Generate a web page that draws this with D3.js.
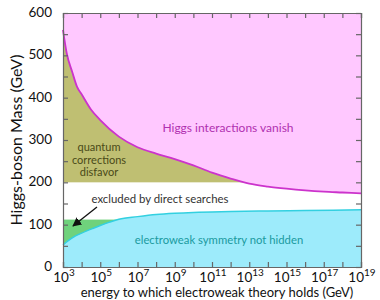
<!DOCTYPE html>
<html>
<head>
<meta charset="utf-8">
<script src="https://cdn.jsdelivr.net/npm/d3@7"></script>
<style>
  body { margin: 0; background: #fff; }
  text { font-family: Lato, "Open Sans", sans-serif; }
</style>
</head>
<body>
<div id="viz"></div>
<script>
"use strict";

// upper bound (Higgs interactions vanish), exponent of energy in GeV
let upperExp  = [3, 3.2, 3.5, 3.75, 4, 4.5, 5, 6, 7, 8, 9, 10, 11, 12, 13, 14, 15, 16, 17, 18, 19];
let upperMass = [560, 505, 460, 426, 408, 372, 347, 308, 283, 268, 255, 240, 223, 209, 197, 190, 185, 181, 178, 176, 174];

// lower bound (electroweak symmetry not hidden)
let lowerExp  = [3, 3.3, 3.65, 4, 4.6, 5, 5.5, 6, 7, 8, 9, 10, 12, 14, 16, 19];
let lowerMass = [52, 63, 73, 80, 91, 98, 106, 113, 119, 124, 127, 129, 131, 132.5, 133.5, 135];

let olivePlateau = 200;   // quantum corrections disfavour above this
let lepLimit = 112;       // excluded by direct searches below this

let xTickExp = [3, 5, 7, 9, 11, 13, 15, 17, 19];
let yTicks = [0, 100, 200, 300, 400, 500, 600];

function initChart() {
    let width = 380;
    let height = 300;
    let left = 63, right = 361, top = 13, bottom = 267;

    let xScale = d3.scaleLog()
                   .domain([1e3, 1e19])
                   .range([left, right]);

    let yScale = d3.scaleLinear()
                   .domain([0, 600])
                   .range([bottom, top]);

    let svg = d3.select('#viz')
                .append('svg')
                .attr('width', width)
                .attr('height', height);

    let upper = upperExp.map((e, i) => ({x: Math.pow(10, e), y: upperMass[i]}));
    let lower = lowerExp.map((e, i) => ({x: Math.pow(10, e), y: lowerMass[i]}));

    // olive band above 200, pink will cover it above the curve
    svg.append('rect')
       .attr('x', xScale(1e3))
       .attr('y', yScale(600))
       .attr('width', xScale(1e19) - xScale(1e3))
       .attr('height', yScale(olivePlateau) - yScale(600))
       .attr('fill', '#bfbf72');

    let pinkArea = d3.area()
                     .x(d => xScale(d.x))
                     .y0(yScale(600))
                     .y1(d => yScale(d.y))
                     .curve(d3.curveMonotoneX);

    svg.append('path')
       .datum(upper)
       .attr('d', pinkArea)
       .attr('fill', '#ffc8ff');

    // green band below LEP limit, cyan covers it under the curve
    svg.append('rect')
       .attr('x', xScale(1e3))
       .attr('y', yScale(lepLimit))
       .attr('width', xScale(1e19) - xScale(1e3))
       .attr('height', yScale(0) - yScale(lepLimit))
       .attr('fill', '#6fd27c');

    let cyanArea = d3.area()
                     .x(d => xScale(d.x))
                     .y0(yScale(0))
                     .y1(d => yScale(d.y))
                     .curve(d3.curveMonotoneX);

    svg.append('path')
       .datum(lower)
       .attr('d', cyanArea)
       .attr('fill', '#9debfb');

    let line = d3.line()
                 .x(d => xScale(d.x))
                 .y(d => yScale(d.y))
                 .curve(d3.curveMonotoneX);

    svg.append('path')
       .datum(upper)
       .attr('d', line)
       .attr('fill', 'none')
       .attr('stroke', '#cc33cc')
       .attr('stroke-width', 1.8);

    svg.append('path')
       .datum(lower)
       .attr('d', line)
       .attr('fill', 'none')
       .attr('stroke', '#33d0e0')
       .attr('stroke-width', 1.5);

    // frame and inward ticks
    let tickColor = '#666';
    let decades = d3.range(3, 20).map(e => Math.pow(10, e));
    let yMinor = d3.range(0, 601, 50);

    svg.append('g')
       .attr('transform', `translate(0,${bottom})`)
       .call(d3.axisBottom(xScale).tickValues(decades).tickSize(-5).tickFormat(''))
       .call(g => g.selectAll('line, path').attr('stroke', tickColor).attr('stroke-width', 1.2));
    svg.append('g')
       .attr('transform', `translate(0,${top})`)
       .call(d3.axisTop(xScale).tickValues(decades).tickSize(-5).tickFormat(''))
       .call(g => g.selectAll('line, path').attr('stroke', tickColor).attr('stroke-width', 1.2));
    svg.append('g')
       .attr('transform', `translate(${left},0)`)
       .call(d3.axisLeft(yScale).tickValues(yMinor).tickSize(-5).tickFormat(''))
       .call(g => g.selectAll('line, path').attr('stroke', tickColor).attr('stroke-width', 1.2));
    svg.append('g')
       .attr('transform', `translate(${right},0)`)
       .call(d3.axisRight(yScale).tickValues(yMinor).tickSize(-5).tickFormat(''))
       .call(g => g.selectAll('line, path').attr('stroke', tickColor).attr('stroke-width', 1.2));

    // y tick labels
    svg.selectAll('text.ylab')
       .data(yTicks)
       .enter()
       .append('text')
       .attr('class', 'ylab')
       .attr('x', left - 11)
       .attr('y', d => yScale(d) + 4)
       .attr('text-anchor', 'end')
       .attr('font-size', '13.5px')
       .attr('fill', '#111')
       .text(d => d);

    // x tick labels with superscripts
    let xl = svg.selectAll('text.xlab')
                .data(xTickExp)
                .enter()
                .append('text')
                .attr('class', 'xlab')
                .attr('x', d => xScale(Math.pow(10, d)) + 1)
                .attr('y', 281.5)
                .attr('text-anchor', 'middle')
                .attr('font-size', '13.5px')
                .attr('fill', '#111');
    xl.append('tspan').text('10');
    xl.append('tspan')
      .attr('dy', -6)
      .attr('font-size', '10px')
      .text(d => d);

    // axis titles
    svg.append('text')
       .attr('transform', `translate(22,${(top + bottom) / 2}) rotate(-90)`)
       .attr('text-anchor', 'middle')
       .attr('font-size', '16px')
       .attr('fill', '#111')
       .text('Higgs-boson Mass (GeV)');

    svg.append('text')
       .attr('x', 217)
       .attr('y', 297)
       .attr('text-anchor', 'middle')
       .attr('font-size', '13px')
       .attr('fill', '#111')
       .text('energy to which electroweak theory holds (GeV)');

    // region labels
    svg.append('text')
       .attr('x', 228)
       .attr('y', 132)
       .attr('text-anchor', 'middle')
       .attr('font-size', '12px')
       .attr('fill', '#b030b0')
       .text('Higgs interactions vanish');

    svg.selectAll('text.olive')
       .data(['quantum', 'corrections', 'disfavor'])
       .enter()
       .append('text')
       .attr('class', 'olive')
       .attr('x', 99)
       .attr('y', (d, i) => 151 + i * 12.5)
       .attr('text-anchor', 'middle')
       .attr('font-size', '11px')
       .attr('fill', '#4a4a18')
       .text(d => d);

    svg.append('text')
       .attr('x', 160)
       .attr('y', 203)
       .attr('text-anchor', 'middle')
       .attr('font-size', '11.4px')
       .attr('fill', '#333')
       .text('excluded by direct searches');

    svg.append('text')
       .attr('x', 219)
       .attr('y', 244)
       .attr('text-anchor', 'middle')
       .attr('font-size', '11.3px')
       .attr('fill', '#1a9aa0')
       .text('electroweak symmetry not hidden');

    // arrow
    svg.append('defs').append('marker')
       .attr('id', 'head')
       .attr('viewBox', '0 0 10 10')
       .attr('refX', 9).attr('refY', 5)
       .attr('markerWidth', 7).attr('markerHeight', 7)
       .attr('orient', 'auto')
       .append('path')
       .attr('d', 'M0,0 L10,5 L0,10 z')
       .attr('fill', '#111');

    svg.append('line')
       .attr('x1', 97).attr('y1', 207)
       .attr('x2', 73).attr('y2', 226)
       .attr('stroke', '#111')
       .attr('stroke-width', 1.3)
       .attr('marker-end', 'url(#head)');
}

initChart();
</script>
</body>
</html>
